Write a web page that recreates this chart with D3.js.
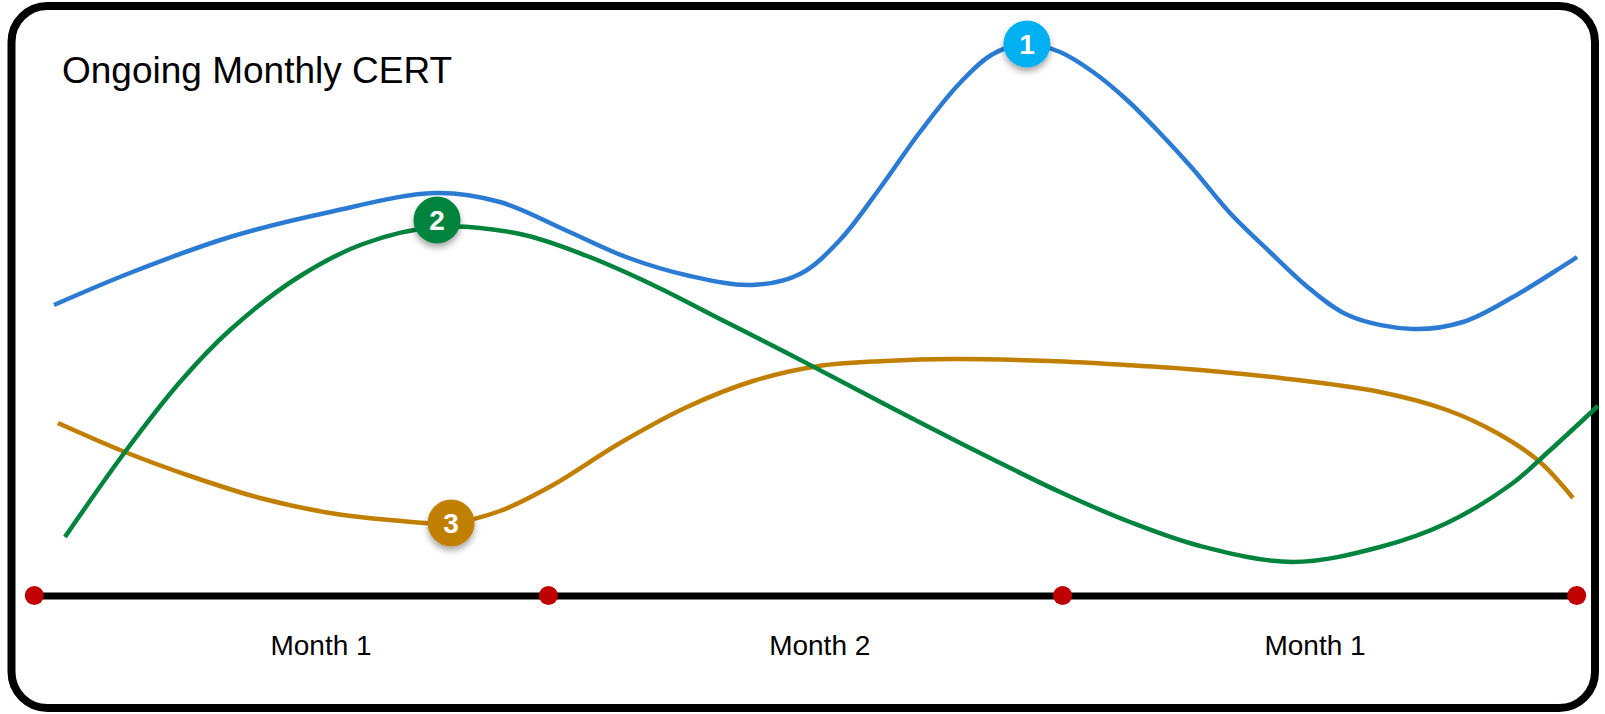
<!DOCTYPE html>
<html>
<head>
<meta charset="utf-8">
<script src="https://cdn.jsdelivr.net/npm/d3@7/dist/d3.min.js"></script>
<style>
  html, body { margin: 0; padding: 0; background: #fff; }
  svg { display: block; }
</style>
</head>
<body>
<svg id="chart" width="1605" height="714"></svg>
<script>
// Timeline in days (three 30-day months), values on an arbitrary 0–119 scale.
const monthBoundaries = [0, 30, 60, 90];
const monthLabels = ["Month 1", "Month 2", "Month 1"];
const monthLabelDays = [16.7, 45.8, 74.7];

const seriesBlue = [
  [1.15, 58], [5.58, 64.4], [11.42, 71.6], [17.25, 76.6], [23.38, 80.4],
  [27.17, 78.6], [30.85, 73.2], [34.53, 67.6], [38.26, 63.8], [41.88, 62],
  [44.68, 64.2], [47.01, 71], [49.35, 81.4], [51.68, 92.6], [54.01, 102.4],
  [55.94, 108.2], [57.92, 110.2], [59.85, 108.6], [61.78, 104.6], [63.76, 99],
  [65.68, 92.4], [67.61, 85.2], [69.77, 76.4], [72.1, 68.6], [74.44, 61.2],
  [76.77, 55.8], [80.45, 53.2], [83.36, 54.6], [86.28, 59.6], [90.02, 67.6]
];

const seriesGreen = [
  [1.79, 11.6], [5.29, 28.6], [8.5, 42.6], [11.42, 53], [15.33, 63.4],
  [19.18, 70.2], [23.5, 73.6], [28.34, 72.2], [32.25, 67.8], [36.1, 62],
  [40.01, 55.2], [43.92, 48.4], [47.6, 41.8], [51.74, 34.4], [55.77, 27.4],
  [59.85, 20.6], [63.93, 14.6], [68.02, 9.8], [73.44, 6.6], [78.52, 9.6],
  [82.43, 14.4], [86.28, 22.4], [88.27, 28.4], [91.24, 37.8]
];

const seriesOrange = [
  [1.38, 34.4], [5.29, 28.6], [9.09, 23.8], [13.17, 19.4], [17.25, 16.4],
  [20.76, 15], [24.32, 14.4], [27.17, 16.8], [30.27, 22], [34.18, 30.4],
  [38.09, 37.6], [41.94, 42.8], [45.79, 45.8], [49.64, 46.8], [53.55, 47.2],
  [59.27, 46.8], [63.7, 46], [68.02, 45], [72.69, 43.4], [78.52, 40.6],
  [82.43, 37], [85.35, 32.4], [87.86, 26.6], [89.78, 19.4]
];

// Numbered callouts: which series and which point they sit on.
const markerNumbers = ["1", "2", "3"];
const markerSeries = ["blue", "green", "orange"];
const markerPointIndex = [16, 6, 6];

const colors = {
  blue: "#2B7BD3",
  green: "#00843D",
  orange: "#C17F00"
};
const markerFill = { blue: "#00B0F0", green: "#00843D", orange: "#C17F00" };
const markerLift = { blue: 0, green: -7, orange: 0 };

const svg = d3.select("#chart");

const x = d3.scaleLinear().domain([0, 90]).range([34.3, 1576.7]);
const y = d3.scaleLinear().domain([0, 119]).range([595, 0]);

// Drop shadow for the callout badges
const defs = svg.append("defs");
const f = defs.append("filter").attr("id", "badgeShadow")
  .attr("x", "-50%").attr("y", "-50%").attr("width", "200%").attr("height", "200%");
f.append("feDropShadow").attr("dx", 0).attr("dy", 4).attr("stdDeviation", 3)
  .attr("flood-color", "#000").attr("flood-opacity", 0.35);

// Outer frame
svg.append("rect")
  .attr("x", 11.5).attr("y", 6)
  .attr("width", 1583.5).attr("height", 702)
  .attr("rx", 36).attr("ry", 36)
  .attr("fill", "#fff")
  .attr("stroke", "#000")
  .attr("stroke-width", 8);

// Title
svg.append("text")
  .attr("x", 62).attr("y", 83)
  .attr("font-family", "'Liberation Sans', Arial, sans-serif")
  .attr("font-size", 37)
  .attr("fill", "#000")
  .text("Ongoing Monthly CERT");

// Time axis
const axis = d3.axisBottom(x)
  .tickValues(monthLabelDays)
  .tickFormat((d, i) => monthLabels[i])
  .tickSize(0)
  .tickSizeOuter(0)
  .tickPadding(40);

const gAxis = svg.append("g")
  .attr("transform", `translate(0,${y(0) + 0.5})`)
  .call(axis);
gAxis.select(".domain").attr("stroke", "#000").attr("stroke-width", 7);
gAxis.selectAll(".tick text")
  .attr("font-family", "'Liberation Sans', Arial, sans-serif")
  .attr("font-size", 28)
  .attr("fill", "#000");

// Month boundary dots
svg.append("g").selectAll("circle")
  .data(monthBoundaries)
  .join("circle")
  .attr("cx", d => x(d))
  .attr("cy", y(0) + 0.5)
  .attr("r", 9.5)
  .attr("fill", "#C00000");

// Series lines
const line = d3.line()
  .x(d => x(d[0]))
  .y(d => y(d[1]))
  .curve(d3.curveCatmullRom.alpha(0.5));

const series = [
  { key: "blue", data: seriesBlue },
  { key: "orange", data: seriesOrange },
  { key: "green", data: seriesGreen }
];

svg.append("g").selectAll("path")
  .data(series)
  .join("path")
  .attr("d", d => line(d.data))
  .attr("fill", "none")
  .attr("stroke", d => colors[d.key])
  .attr("stroke-width", 4.5)
  .attr("stroke-linecap", "butt");

// Numbered badges
const lookup = { blue: seriesBlue, green: seriesGreen, orange: seriesOrange };
const badges = markerNumbers.map((n, i) => {
  const key = markerSeries[i];
  const p = lookup[key][markerPointIndex[i]];
  return { n, key, cx: x(p[0]), cy: y(p[1]) + markerLift[key] };
});

const gB = svg.append("g").selectAll("g")
  .data(badges)
  .join("g")
  .attr("transform", d => `translate(${d.cx},${d.cy})`);

gB.append("circle")
  .attr("r", 23.5)
  .attr("fill", d => markerFill[d.key])
  .attr("filter", "url(#badgeShadow)");

gB.append("text")
  .attr("text-anchor", "middle")
  .attr("dy", "0.36em")
  .attr("font-family", "'Liberation Sans', Arial, sans-serif")
  .attr("font-weight", "bold")
  .attr("font-size", 28)
  .attr("fill", "#fff")
  .text(d => d.n);
</script>
</body>
</html>
